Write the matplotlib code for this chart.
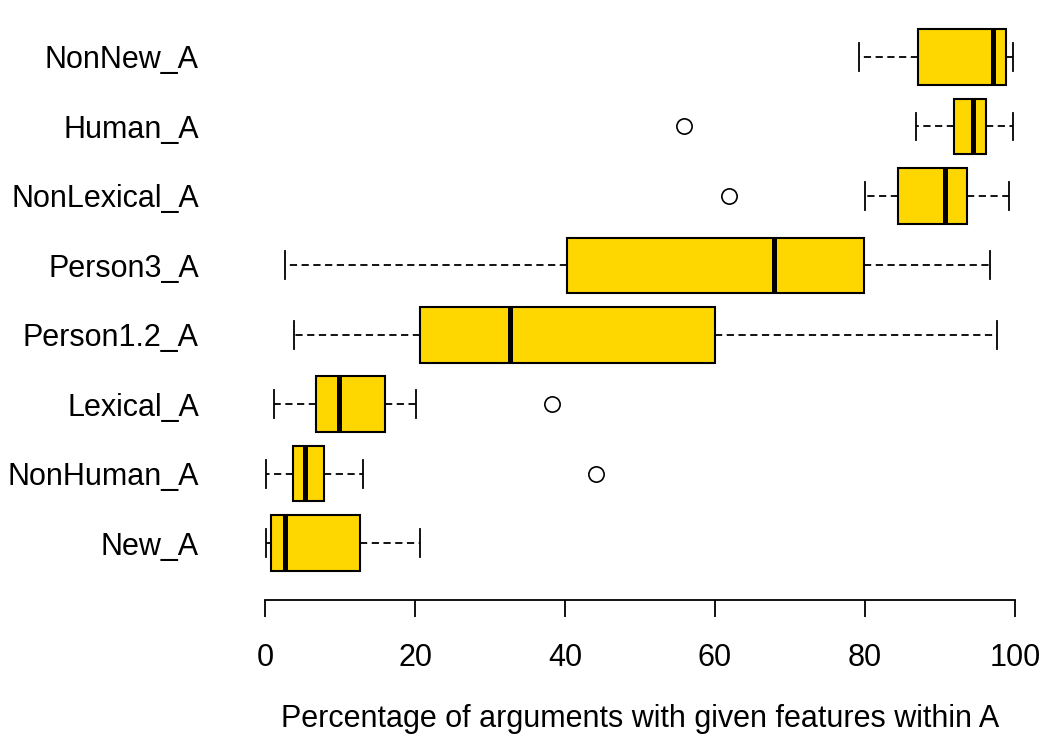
import matplotlib
matplotlib.use("Agg")
import matplotlib.pyplot as plt

plt.rcParams["font.family"] = ["Liberation Sans", "DejaVu Sans"]

# Box statistics (bottom to top)
names = ["New_A", "NonHuman_A", "Lexical_A", "Person1.2_A",
         "Person3_A", "NonLexical_A", "Human_A", "NonNew_A"]
whislo = [0.1, 0.1, 1.2, 3.8, 2.7, 80.0, 86.8, 79.2]
q1 = [0.8, 3.7, 6.8, 20.7, 40.3, 84.4, 91.9, 87.1]
med = [2.6, 5.3, 9.8, 32.7, 67.8, 90.6, 94.4, 97.1]
q3 = [12.7, 7.9, 16.0, 60.0, 79.8, 93.6, 96.1, 98.8]
whishi = [20.7, 13.0, 20.1, 97.6, 96.6, 99.2, 99.7, 99.7]
outliers = [[], [44.1], [38.2], [], [], [61.8], [55.9], []]

stats = []
for i, n in enumerate(names):
    stats.append(dict(label=n, whislo=whislo[i], q1=q1[i], med=med[i],
                      q3=q3[i], whishi=whishi[i], fliers=outliers[i]))

fig = plt.figure(figsize=(10.4, 7.42), dpi=100)
ax = fig.add_axes([235 / 1040, 1 - 600 / 742, 810 / 1040, 600 / 742])

ax.bxp(stats, positions=range(1, len(names) + 1), widths=0.8,
       orientation="horizontal", patch_artist=True, capwidths=0.4,
       boxprops=dict(facecolor="#FFD700", edgecolor="black", linewidth=1.5),
       medianprops=dict(color="black", linewidth=3.6, solid_capstyle="butt"),
       whiskerprops=dict(color="black", linewidth=1.3, linestyle=(0, (4, 2.5))),
       capprops=dict(color="black", linewidth=1.3),
       flierprops=dict(marker="o", markerfacecolor="none",
                       markeredgecolor="black", markersize=11,
                       markeredgewidth=1.2))

ax.set_xlim(-4, 104)
ax.set_ylim(0.18, 8.82)
for s in ["top", "right", "left"]:
    ax.spines[s].set_visible(False)
ax.spines["bottom"].set_bounds(0, 100)
ax.spines["bottom"].set_linewidth(1.3)
ax.set_xticks([0, 20, 40, 60, 80, 100])
ax.tick_params(axis="x", length=12, width=1.3, pad=19, labelsize=22)
ax.tick_params(axis="y", length=0, pad=26, labelsize=22)
ax.set_xlabel("Percentage of arguments with given features within A",
              fontsize=22, labelpad=22)

fig.savefig("out.png", dpi=100)
